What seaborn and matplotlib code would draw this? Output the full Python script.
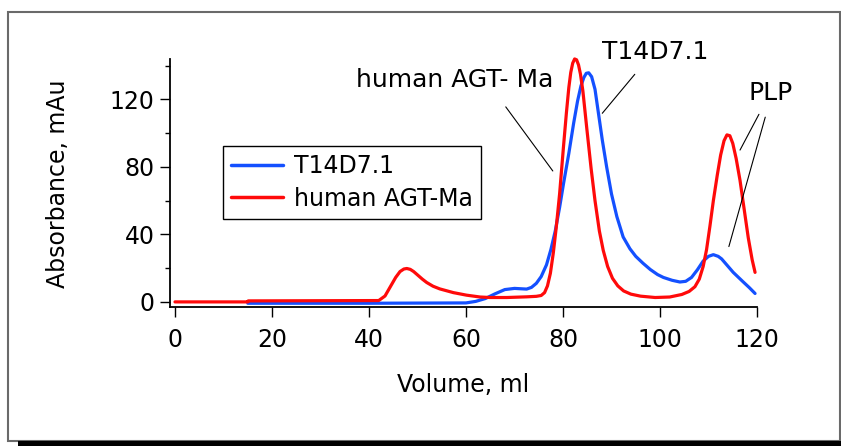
import matplotlib
matplotlib.use("Agg")
import matplotlib.pyplot as plt
from matplotlib.patches import Rectangle
from matplotlib.ticker import MultipleLocator
import seaborn as sns
import pandas as pd

# ---- data ----
t14_volume = [15, 40, 60, 62, 64, 66, 68, 70, 72.5, 73.5, 74.5, 75.5, 76.6, 77.5, 78.4, 79.3,
              80.1, 81.2, 82.2, 83, 83.7, 84.3, 84.8, 85.3, 85.9, 86.6, 87.3, 88.1, 89, 90,
              91.1, 92.4, 93.8, 95, 96.5, 98, 99.5, 100.7, 102.5, 104.1, 105.3, 106.5, 107.7,
              108.9, 110, 111, 112, 112.7, 113.9, 115.1, 117.1, 118.4, 119.6]
t14_abs = [-0.8, -0.8, -0.6, 0.3, 2, 4.8, 7.3, 8, 7.6, 8.6, 11, 15, 22, 31, 42, 56,
           70, 88, 106, 119, 128, 133, 135.5, 135.8, 133.5, 126, 112, 96, 80, 64,
           50.6, 38.5, 31.5, 27, 22.9, 19.2, 16.2, 14.5, 12.8, 11.8, 12.2, 14.5, 19,
           24.2, 27, 28, 27, 25.5, 21.5, 17.5, 12, 8.5, 5]

agt_volume = [0, 15, 15.1, 42, 43.3, 44.3, 45.5, 46.4, 47.2, 47.8, 48.5, 49.2, 50, 51, 51.9,
              53.2, 54.6, 57.4, 60.1, 62.9, 65, 68.4, 72.5, 74.5, 75.5, 76.2, 76.8, 77.4,
              78, 78.6, 79.3, 80.1, 80.7, 81.2, 81.6, 82, 82.4, 82.8, 83.2, 83.6, 84.1,
              84.9, 85.8, 86.6, 87.5, 88.3, 89.2, 90.2, 91.3, 92.5, 94, 96, 99, 102, 104.5,
              106, 107.2, 108.1, 108.9, 109.6, 110.3, 111, 111.8, 112.5, 113.2, 113.8,
              114.4, 115, 115.7, 116.5, 117.3, 118.2, 119, 119.6]
agt_abs = [0, 0, 0.6, 0.8, 3.5, 8.5, 14.5, 18, 19.5, 19.8, 19.3, 18, 16, 13.5, 11.5,
           9.3, 7.7, 5.5, 4, 2.9, 2.6, 2.6, 3, 3.3, 3.8, 5.5, 9.5, 17,
           29, 44, 64, 92, 112, 127, 136, 141.5, 144, 143.5, 140.5, 135, 125,
           103, 79, 60, 42, 30.5, 21, 14, 9.5, 6.5, 4.6, 3.4, 2.6, 2.9, 4.4,
           6.2, 9, 13.5, 21, 31, 45, 60, 75, 87, 95.5, 99,
           98.5, 94, 85, 72, 56, 38, 25, 17.5]

series_names = ["T14D7.1", "human AGT-Ma"]
series_colors = ["#1450ff", "#ff0a0a"]
x_ticks = [0, 20, 40, 60, 80, 100, 120]
y_ticks = [0, 40, 80, 120]

df = pd.concat([
    pd.DataFrame({"Volume": t14_volume, "Absorbance": t14_abs, "Sample": series_names[0]}),
    pd.DataFrame({"Volume": agt_volume, "Absorbance": agt_abs, "Sample": series_names[1]}),
], ignore_index=True)

sns.set_style("ticks")
plt.rcParams["font.family"] = ["DejaVu Sans"]
plt.rcParams.update({"text.color": "black", "axes.labelcolor": "black",
                     "xtick.color": "black", "ytick.color": "black"})

fig = plt.figure(figsize=(8.41, 4.46), dpi=100)
ax = fig.add_axes([170 / 841, 1 - 307.3 / 446, 587 / 841, 248 / 446])

sns.lineplot(data=df, x="Volume", y="Absorbance", hue="Sample",
             palette=dict(zip(series_names, series_colors)), estimator=None,
             linewidth=2.3, ax=ax)
for ln in ax.get_lines():
    ln.set_solid_joinstyle("round")
    ln.set_solid_capstyle("round")
    ln.set_clip_on(False)

ax.set_xlim(-1.03, 120)
ax.set_ylim(-3.2, 143.8)
ax.set_xticks(x_ticks)
ax.set_yticks(y_ticks)
ax.yaxis.set_minor_locator(MultipleLocator(20))
for s in ["top", "right"]:
    ax.spines[s].set_visible(False)
for s in ["left", "bottom"]:
    ax.spines[s].set_linewidth(1.3)
    ax.spines[s].set_color("black")
ax.tick_params(axis="both", which="major", direction="out", length=7.2, width=1.0,
               labelsize=17, colors="black")
ax.tick_params(axis="y", which="minor", direction="out", length=3.5, width=1.0)
ax.tick_params(axis="x", which="major", pad=8)
ax.tick_params(axis="y", which="major", pad=4)

ax.set_xlabel("Volume, ml", fontsize=17, color="black")
ax.set_ylabel("Absorbance, mAu", fontsize=17, color="black")
ax.xaxis.set_label_coords(0.5, -0.265)
ax.yaxis.set_label_coords(-0.17, 0.5)

leg = ax.legend(loc="upper left", bbox_to_anchor=(223 / 841, 1 - 146 / 446),
                bbox_transform=fig.transFigure, fontsize=17, frameon=True,
                fancybox=False, edgecolor="black", framealpha=1, borderaxespad=0,
                handlelength=2.2, handletextpad=0.45, borderpad=0.35, labelspacing=0.35,
                title=None)
leg.get_frame().set_linewidth(1.0)
for line in leg.get_lines():
    line.set_linewidth(2.5)
for t in leg.get_texts():
    t.set_color("black")

# annotations
kw = dict(fontsize=18, ha="center", va="center", annotation_clip=False, color="black")
ax.annotate("human AGT- Ma", xy=(57.7, 131.5), **kw)
ax.annotate("T14D7.1", xy=(99.1, 148.3), **kw)
ax.annotate("PLP", xy=(122.8, 123.7), **kw)
lk = dict(arrowprops=dict(arrowstyle="-", lw=0.8, color="black", shrinkA=0, shrinkB=0),
          annotation_clip=False)
ax.annotate("", xy=(77.9, 77.6), xytext=(68.2, 115.6), **lk)
ax.annotate("", xy=(88.1, 111.8), xytext=(94.8, 134.9), **lk)
ax.annotate("", xy=(116.5, 90.0), xytext=(120.4, 111.2), **lk)
ax.annotate("", xy=(114.2, 32.8), xytext=(121.7, 109.5), **lk)

# outer frame with bottom shadow
fig.add_artist(Rectangle((8 / 841, 1 - 441 / 446), 832 / 841, 429 / 446,
                         transform=fig.transFigure, fill=False,
                         edgecolor="#6a6a6a", linewidth=1.5))
fig.add_artist(Rectangle((18 / 841, 0), 823 / 841, 5 / 446,
                         transform=fig.transFigure, facecolor="black",
                         edgecolor="none"))

fig.savefig("out.png", dpi=100)
